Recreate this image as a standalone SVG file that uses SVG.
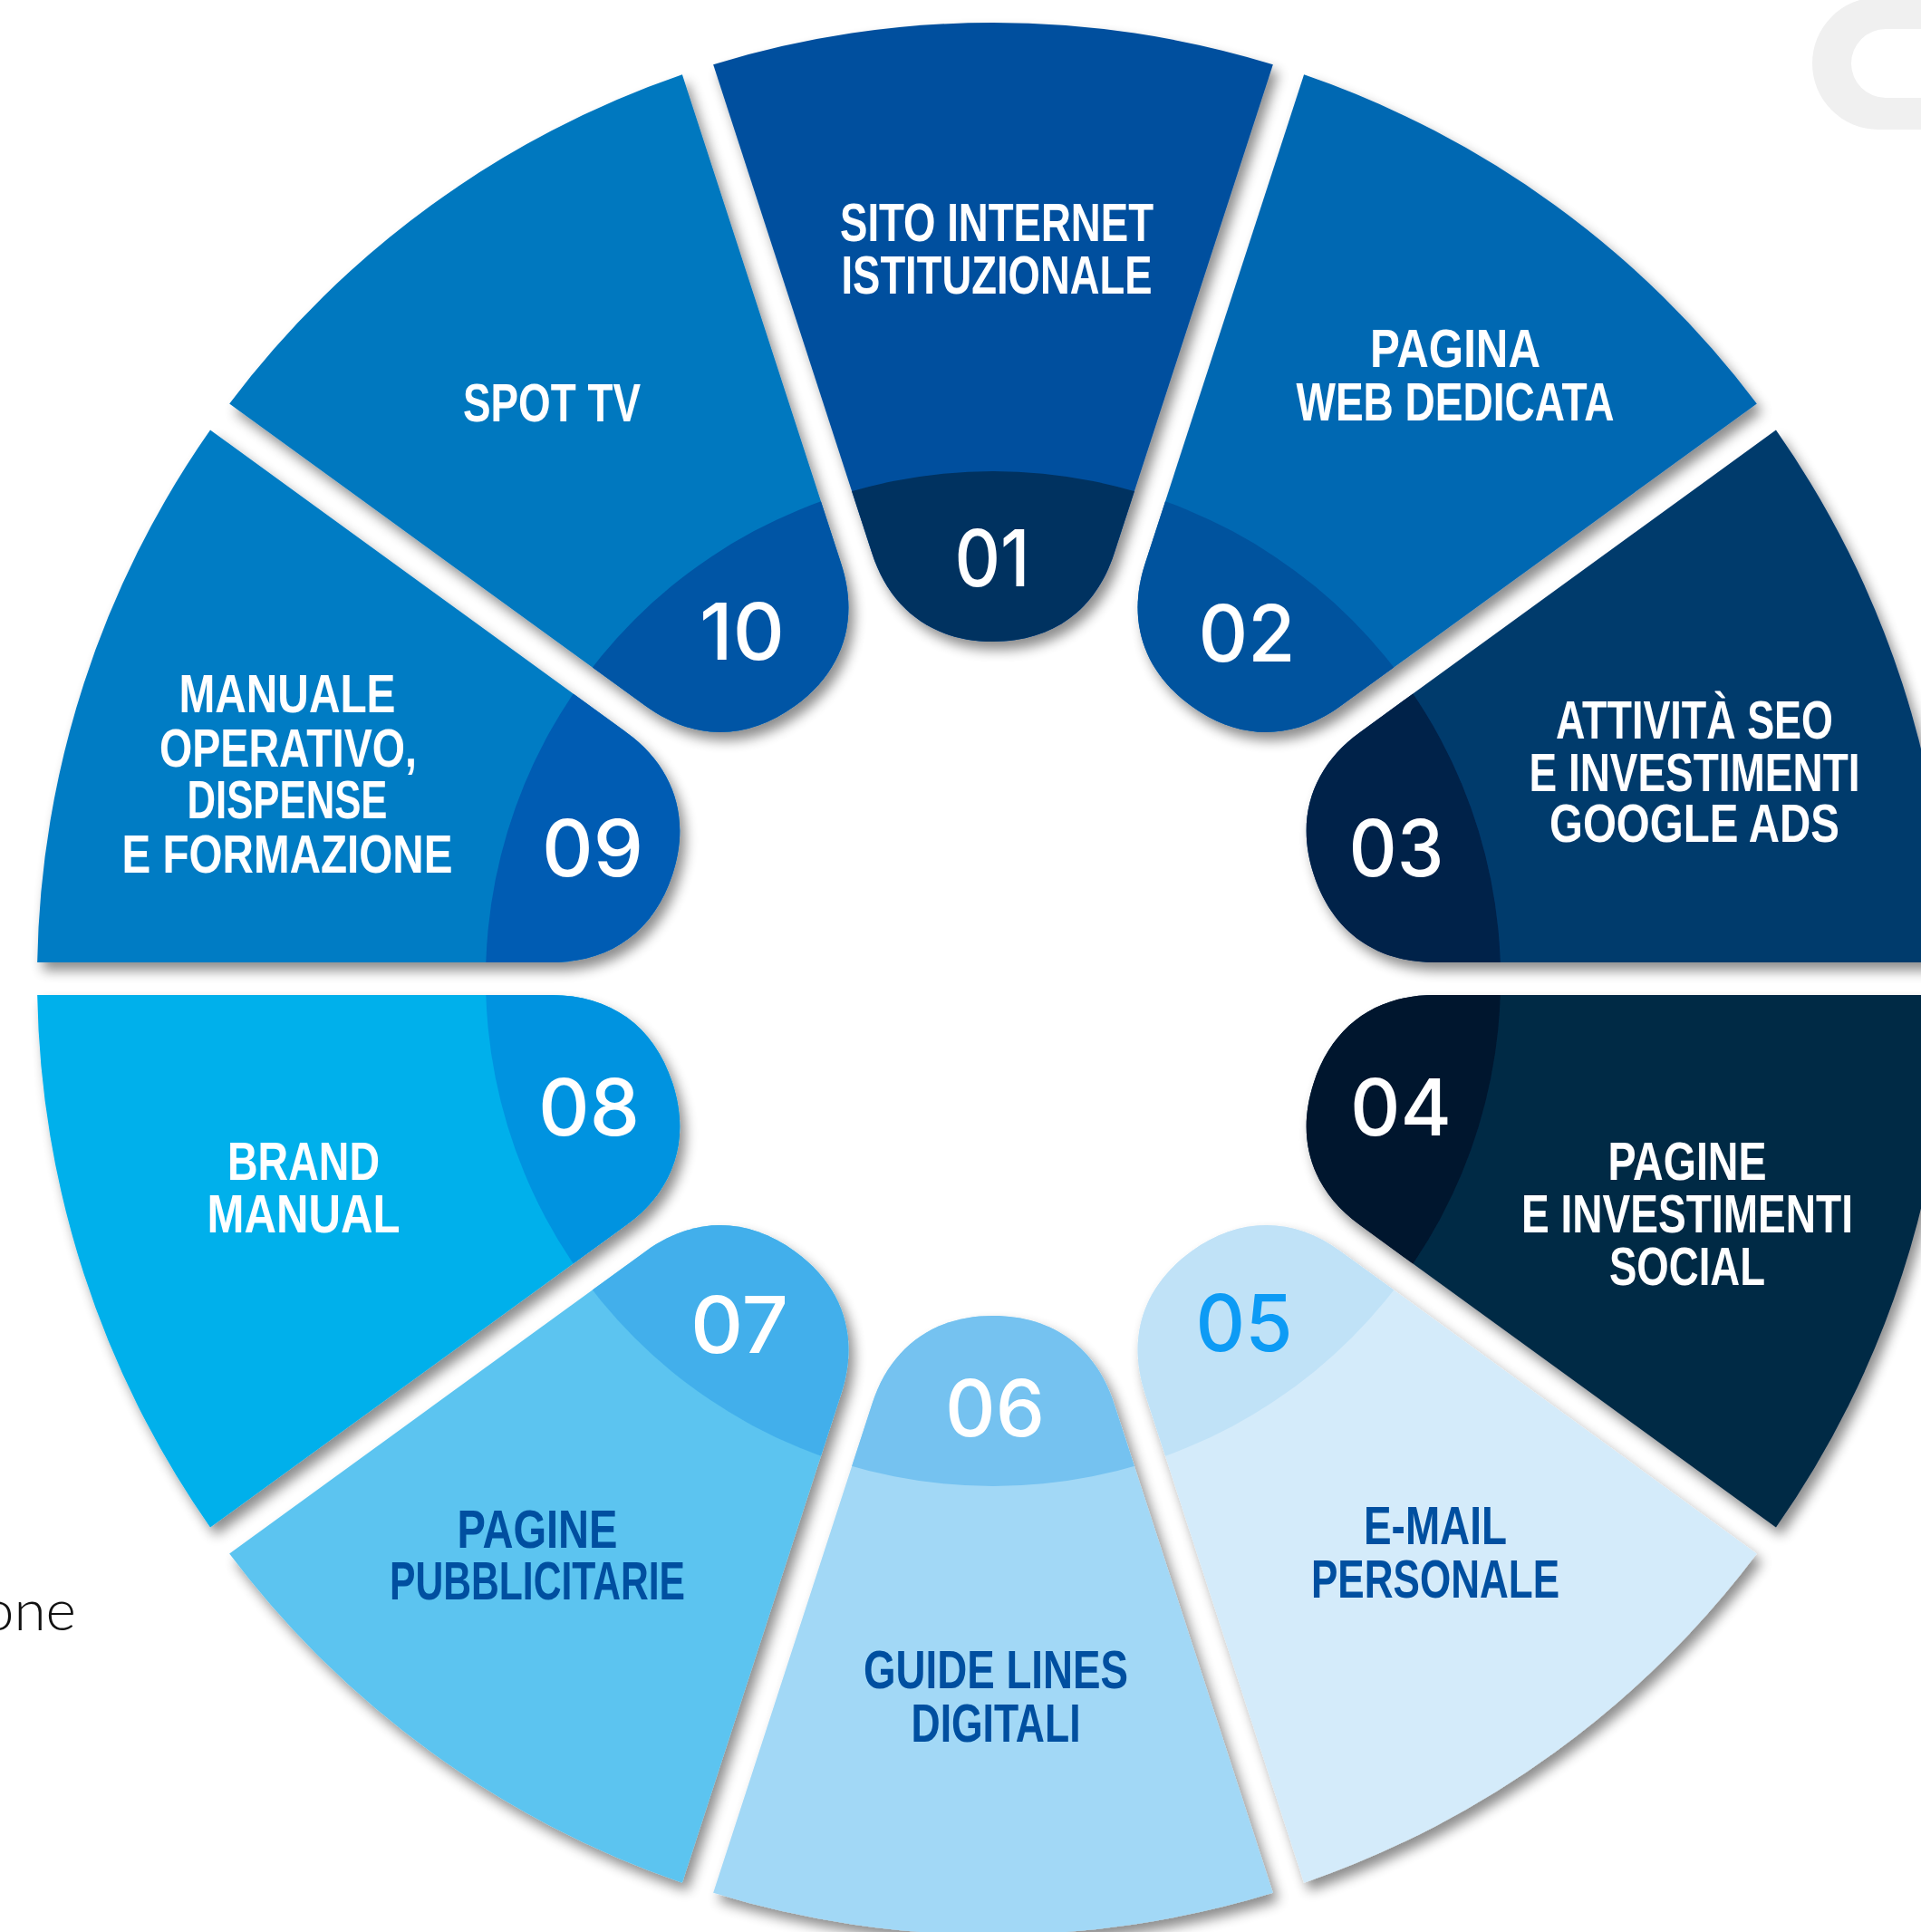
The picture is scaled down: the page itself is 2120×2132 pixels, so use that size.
<svg xmlns="http://www.w3.org/2000/svg" xmlns:xlink="http://www.w3.org/1999/xlink" width="2120" height="2132" viewBox="0 0 2120 2132">
<style>
.lbl{font-family:"Liberation Sans",Arial,sans-serif;font-weight:700;font-size:59px;text-anchor:middle}
.num{font-family:Inter,"Open Sans",sans-serif;font-weight:500;font-size:86px;text-anchor:middle}
.w{fill:#ffffff}
.b{fill:#0050A0}
</style>
<defs>
<path id="seg" d="M1404.85,71.22 L1229.5,611.1 C1209.7,672 1163,708 1096,708 C1029,708 982.3,672 962.5,611.1 L787.15,71.22 A1055,1055 0 0 1 1404.85,71.22 Z"/>
<clipPath id="k01"><use xlink:href="#seg" href="#seg"/></clipPath>
<clipPath id="k02"><use xlink:href="#seg" href="#seg" transform="rotate(36 1096 1080)"/></clipPath>
<clipPath id="k03"><use xlink:href="#seg" href="#seg" transform="rotate(72 1096 1080)"/></clipPath>
<clipPath id="k04"><use xlink:href="#seg" href="#seg" transform="rotate(108 1096 1080)"/></clipPath>
<clipPath id="k05"><use xlink:href="#seg" href="#seg" transform="rotate(144 1096 1080)"/></clipPath>
<clipPath id="k06"><use xlink:href="#seg" href="#seg" transform="rotate(180 1096 1080)"/></clipPath>
<clipPath id="k07"><use xlink:href="#seg" href="#seg" transform="rotate(216 1096 1080)"/></clipPath>
<clipPath id="k08"><use xlink:href="#seg" href="#seg" transform="rotate(252 1096 1080)"/></clipPath>
<clipPath id="k09"><use xlink:href="#seg" href="#seg" transform="rotate(288 1096 1080)"/></clipPath>
<clipPath id="k10"><use xlink:href="#seg" href="#seg" transform="rotate(324 1096 1080)"/></clipPath>
<filter id="sh" x="-5%" y="-5%" width="110%" height="110%">
<feGaussianBlur in="SourceAlpha" stdDeviation="7"/>
<feOffset dx="6" dy="9" result="o"/>
<feComponentTransfer><feFuncA type="linear" slope="0.45"/></feComponentTransfer>
<feMerge><feMergeNode/><feMergeNode in="SourceGraphic"/></feMerge>
</filter>
</defs>
<rect width="2120" height="2132" fill="#ffffff"/>
<path id="bg-letter" fill="#F0F0F0" fill-rule="evenodd" d="M2120,-3 H2073 A73,73 0 0 0 2073,143 H2120 Z M2120,32 H2081 A38,38 0 0 0 2081,108 H2120 Z"/>
<text x="84" y="1799" style="font-family:Lato,Inter,sans-serif;font-weight:300;font-size:64px;text-anchor:end;fill:#111">one</text>
<g id="connectors"/>
<g id="wheel" filter="url(#sh)">
<g id="node-01">
<use xlink:href="#seg" href="#seg" fill="#00509E"/>
<circle cx="1096" cy="1080" r="560" fill="#003260" clip-path="url(#k01)"/>
<text class="num w" x="1095" y="647" textLength="83" lengthAdjust="spacingAndGlyphs">01</text>
<text class="lbl w" x="1100" y="266" textLength="346" lengthAdjust="spacingAndGlyphs">SITO INTERNET</text>
<text class="lbl w" x="1100" y="324" textLength="343" lengthAdjust="spacingAndGlyphs">ISTITUZIONALE</text>
</g>
<g id="node-02">
<use xlink:href="#seg" href="#seg" transform="rotate(36 1096 1080)" fill="#0068B2"/>
<circle cx="1096" cy="1080" r="560" fill="#00539E" clip-path="url(#k02)"/>
<text class="num w" x="1376" y="730" textLength="107" lengthAdjust="spacingAndGlyphs">02</text>
<text class="lbl w" x="1606" y="405" textLength="188" lengthAdjust="spacingAndGlyphs">PAGINA</text>
<text class="lbl w" x="1606" y="464" textLength="351" lengthAdjust="spacingAndGlyphs">WEB DEDICATA</text>
</g>
<g id="node-03">
<use xlink:href="#seg" href="#seg" transform="rotate(72 1096 1080)" fill="#003A6C"/>
<circle cx="1096" cy="1080" r="560" fill="#002148" clip-path="url(#k03)"/>
<text class="num w" x="1541" y="967" textLength="105" lengthAdjust="spacingAndGlyphs">03</text>
<text class="lbl w" x="1870" y="815" textLength="306" lengthAdjust="spacingAndGlyphs">ATTIVITÀ SEO</text>
<text class="lbl w" x="1870" y="873" textLength="365" lengthAdjust="spacingAndGlyphs">E INVESTIMENTI</text>
<text class="lbl w" x="1870" y="929" textLength="320" lengthAdjust="spacingAndGlyphs">GOOGLE ADS</text>
</g>
<g id="node-04">
<use xlink:href="#seg" href="#seg" transform="rotate(108 1096 1080)" fill="#032945"/>
<circle cx="1096" cy="1080" r="560" fill="#02152D" clip-path="url(#k04)"/>
<text class="num w" x="1546" y="1253" textLength="112" lengthAdjust="spacingAndGlyphs">04</text>
<text class="lbl w" x="1862" y="1302" textLength="175" lengthAdjust="spacingAndGlyphs">PAGINE</text>
<text class="lbl w" x="1862" y="1360" textLength="366" lengthAdjust="spacingAndGlyphs">E INVESTIMENTI</text>
<text class="lbl w" x="1862" y="1418" textLength="172" lengthAdjust="spacingAndGlyphs">SOCIAL</text>
</g>
<g id="node-05">
<use xlink:href="#seg" href="#seg" transform="rotate(144 1096 1080)" fill="#D4EBFA"/>
<circle cx="1096" cy="1080" r="560" fill="#C0E2F7" clip-path="url(#k05)"/>
<text class="num" x="1373" y="1491" textLength="107" lengthAdjust="spacingAndGlyphs" style="fill:#0A9BF5">05</text>
<text class="lbl b" x="1584" y="1704" textLength="158" lengthAdjust="spacingAndGlyphs">E-MAIL</text>
<text class="lbl b" x="1584" y="1763" textLength="274" lengthAdjust="spacingAndGlyphs">PERSONALE</text>
</g>
<g id="node-06">
<use xlink:href="#seg" href="#seg" transform="rotate(180 1096 1080)" fill="#A2D8F6"/>
<circle cx="1096" cy="1080" r="560" fill="#74C2F0" clip-path="url(#k06)"/>
<text class="num w" x="1098" y="1585" textLength="110" lengthAdjust="spacingAndGlyphs">06</text>
<text class="lbl b" x="1099" y="1863" textLength="292" lengthAdjust="spacingAndGlyphs">GUIDE LINES</text>
<text class="lbl b" x="1099" y="1922" textLength="187" lengthAdjust="spacingAndGlyphs">DIGITALI</text>
</g>
<g id="node-07">
<use xlink:href="#seg" href="#seg" transform="rotate(216 1096 1080)" fill="#5BC4F0"/>
<circle cx="1096" cy="1080" r="560" fill="#42AFEB" clip-path="url(#k07)"/>
<text class="num w" x="816" y="1493" textLength="108" lengthAdjust="spacingAndGlyphs">07</text>
<text class="lbl b" x="593" y="1708" textLength="177" lengthAdjust="spacingAndGlyphs">PAGINE</text>
<text class="lbl b" x="593" y="1765" textLength="326" lengthAdjust="spacingAndGlyphs">PUBBLICITARIE</text>
</g>
<g id="node-08">
<use xlink:href="#seg" href="#seg" transform="rotate(252 1096 1080)" fill="#03B0EB"/>
<circle cx="1096" cy="1080" r="560" fill="#0093E0" clip-path="url(#k08)"/>
<text class="num w" x="650" y="1253" textLength="112" lengthAdjust="spacingAndGlyphs">08</text>
<text class="lbl w" x="335" y="1302" textLength="168" lengthAdjust="spacingAndGlyphs">BRAND</text>
<text class="lbl w" x="335" y="1360" textLength="213" lengthAdjust="spacingAndGlyphs">MANUAL</text>
</g>
<g id="node-09">
<use xlink:href="#seg" href="#seg" transform="rotate(288 1096 1080)" fill="#007CC4"/>
<circle cx="1096" cy="1080" r="560" fill="#005CB3" clip-path="url(#k09)"/>
<text class="num w" x="654" y="967" textLength="112" lengthAdjust="spacingAndGlyphs">09</text>
<text class="lbl w" x="317" y="786" textLength="239" lengthAdjust="spacingAndGlyphs">MANUALE</text>
<text class="lbl w" x="318" y="846" textLength="284" lengthAdjust="spacingAndGlyphs">OPERATIVO,</text>
<text class="lbl w" x="317" y="903" textLength="221" lengthAdjust="spacingAndGlyphs">DISPENSE</text>
<text class="lbl w" x="317" y="963" textLength="365" lengthAdjust="spacingAndGlyphs">E FORMAZIONE</text>
</g>
<g id="node-10">
<use xlink:href="#seg" href="#seg" transform="rotate(324 1096 1080)" fill="#0078BF"/>
<circle cx="1096" cy="1080" r="560" fill="#0055A5" clip-path="url(#k10)"/>
<text class="num w" x="819" y="728" textLength="94" lengthAdjust="spacingAndGlyphs">10</text>
<text class="lbl w" x="609" y="465" textLength="196" lengthAdjust="spacingAndGlyphs">SPOT TV</text>
</g>
</g>
</svg>
